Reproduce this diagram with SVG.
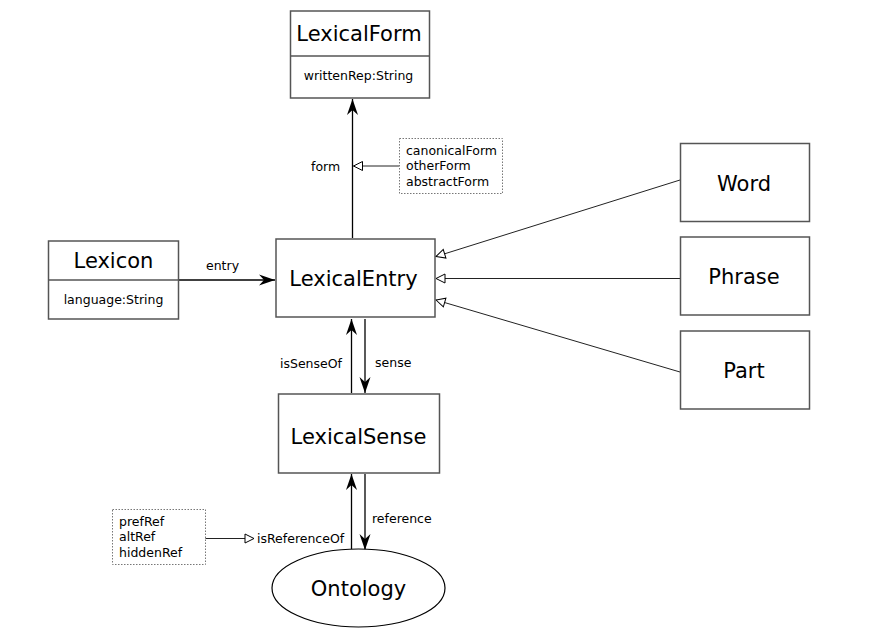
<svg xmlns="http://www.w3.org/2000/svg" width="885" height="634" viewBox="0 0 885 634">
<defs>
<style>
.box{fill:#fff;stroke:#555;stroke-width:1.5}
.dot{fill:#fff;stroke:#777;stroke-width:1;stroke-dasharray:1.5,1.5}
.t{font-family:"DejaVu Sans","Liberation Sans",sans-serif;fill:#000}
.big{font-size:21px;text-anchor:middle}
.sm{font-size:12.5px}
.smc{font-size:12.5px;text-anchor:middle}
.ln{stroke:#000;stroke-width:1.3;fill:none}
.lt{stroke:#222;stroke-width:1;fill:none}
</style>
<marker id="fill" markerUnits="userSpaceOnUse" viewBox="-17 -6 18 12" refX="0" refY="0" markerWidth="18" markerHeight="12" orient="auto">
<path d="M0,0 L-16,-5.5 L-11,0 L-16,5.5 Z" fill="#000"/>
</marker>
<marker id="open" markerUnits="userSpaceOnUse" viewBox="-10 -6 11 12" refX="0" refY="0" markerWidth="11" markerHeight="12" orient="auto">
<path d="M0,0 L-9,-4.5 L-9,4.5 Z" fill="#fff" stroke="#000" stroke-width="1"/>
</marker>
</defs>
<rect width="885" height="634" fill="#fff"/>
<g id="connectors">
<line class="ln" x1="352.5" y1="238" x2="352.5" y2="99" marker-end="url(#fill)"/>
<line class="lt" x1="399" y1="166" x2="353.5" y2="166" marker-end="url(#open)"/>
<text class="t sm" x="311" y="170.5">form</text>
<line class="ln" x1="179" y1="280" x2="275" y2="280" marker-end="url(#fill)"/>
<text class="t sm" x="206" y="269.5">entry</text>
<line class="ln" x1="351.5" y1="393" x2="351.5" y2="319" marker-end="url(#fill)"/>
<line class="ln" x1="365" y1="319" x2="365" y2="393" marker-end="url(#fill)"/>
<text class="t sm" x="280" y="368">isSenseOf</text>
<text class="t sm" x="375" y="367">sense</text>
<line class="ln" x1="351.5" y1="549" x2="351.5" y2="474" marker-end="url(#fill)"/>
<line class="ln" x1="365" y1="474" x2="365" y2="550" marker-end="url(#fill)"/>
<text class="t sm" x="372" y="523">reference</text>
<line class="lt" x1="205" y1="538.5" x2="254" y2="538.5" marker-end="url(#open)"/>
<text class="t sm" x="257" y="543">isReferenceOf</text>
<line class="lt" x1="680" y1="180" x2="436" y2="256.5" marker-end="url(#open)"/>
<line class="lt" x1="680" y1="278.5" x2="436" y2="278.5" marker-end="url(#open)"/>
<line class="lt" x1="680" y1="372" x2="436" y2="300" marker-end="url(#open)"/>
</g>
<g id="LexicalForm">
<rect class="box" x="290.5" y="11" width="139" height="87"/>
<line class="box" x1="290.5" y1="56" x2="429.5" y2="56"/>
<text class="t big" x="359" y="40.5">LexicalForm</text>
<text class="t smc" x="358.5" y="80">writtenRep:String</text>
</g>
<g id="formNote">
<rect class="dot" x="399.5" y="138.5" width="103" height="55"/>
<text class="t sm" x="406" y="155">canonicalForm</text>
<text class="t sm" x="406" y="170">otherForm</text>
<text class="t sm" x="406" y="185.5">abstractForm</text>
</g>
<g id="Lexicon">
<rect class="box" x="48.5" y="241" width="130" height="78"/>
<line class="box" x1="48.5" y1="280" x2="178.5" y2="280"/>
<text class="t big" x="113.5" y="268">Lexicon</text>
<text class="t smc" x="113.5" y="304">language:String</text>
</g>
<g id="LexicalEntry">
<rect class="box" x="276" y="239" width="159" height="78"/>
<text class="t big" x="353.5" y="285.5">LexicalEntry</text>
</g>
<g id="LexicalSense">
<rect class="box" x="278.5" y="394" width="161" height="79"/>
<text class="t big" x="358.5" y="443.5">LexicalSense</text>
</g>
<g id="Ontology">
<ellipse cx="358.5" cy="588" rx="86.5" ry="39" fill="#fff" stroke="#000" stroke-width="1.2"/>
<text class="t big" x="358.5" y="595.5">Ontology</text>
</g>
<g id="refNote">
<rect class="dot" x="112.5" y="509.5" width="93" height="55"/>
<text class="t sm" x="119" y="525.5">prefRef</text>
<text class="t sm" x="119" y="541">altRef</text>
<text class="t sm" x="119" y="556.5">hiddenRef</text>
</g>
<g id="Word">
<rect class="box" x="680.5" y="143.5" width="129" height="78"/>
<text class="t big" x="744" y="190.5">Word</text>
</g>
<g id="Phrase">
<rect class="box" x="680.5" y="237" width="129" height="78"/>
<text class="t big" x="744" y="284">Phrase</text>
</g>
<g id="Part">
<rect class="box" x="680.5" y="331" width="129" height="78"/>
<text class="t big" x="744" y="377.5">Part</text>
</g>
</svg>
